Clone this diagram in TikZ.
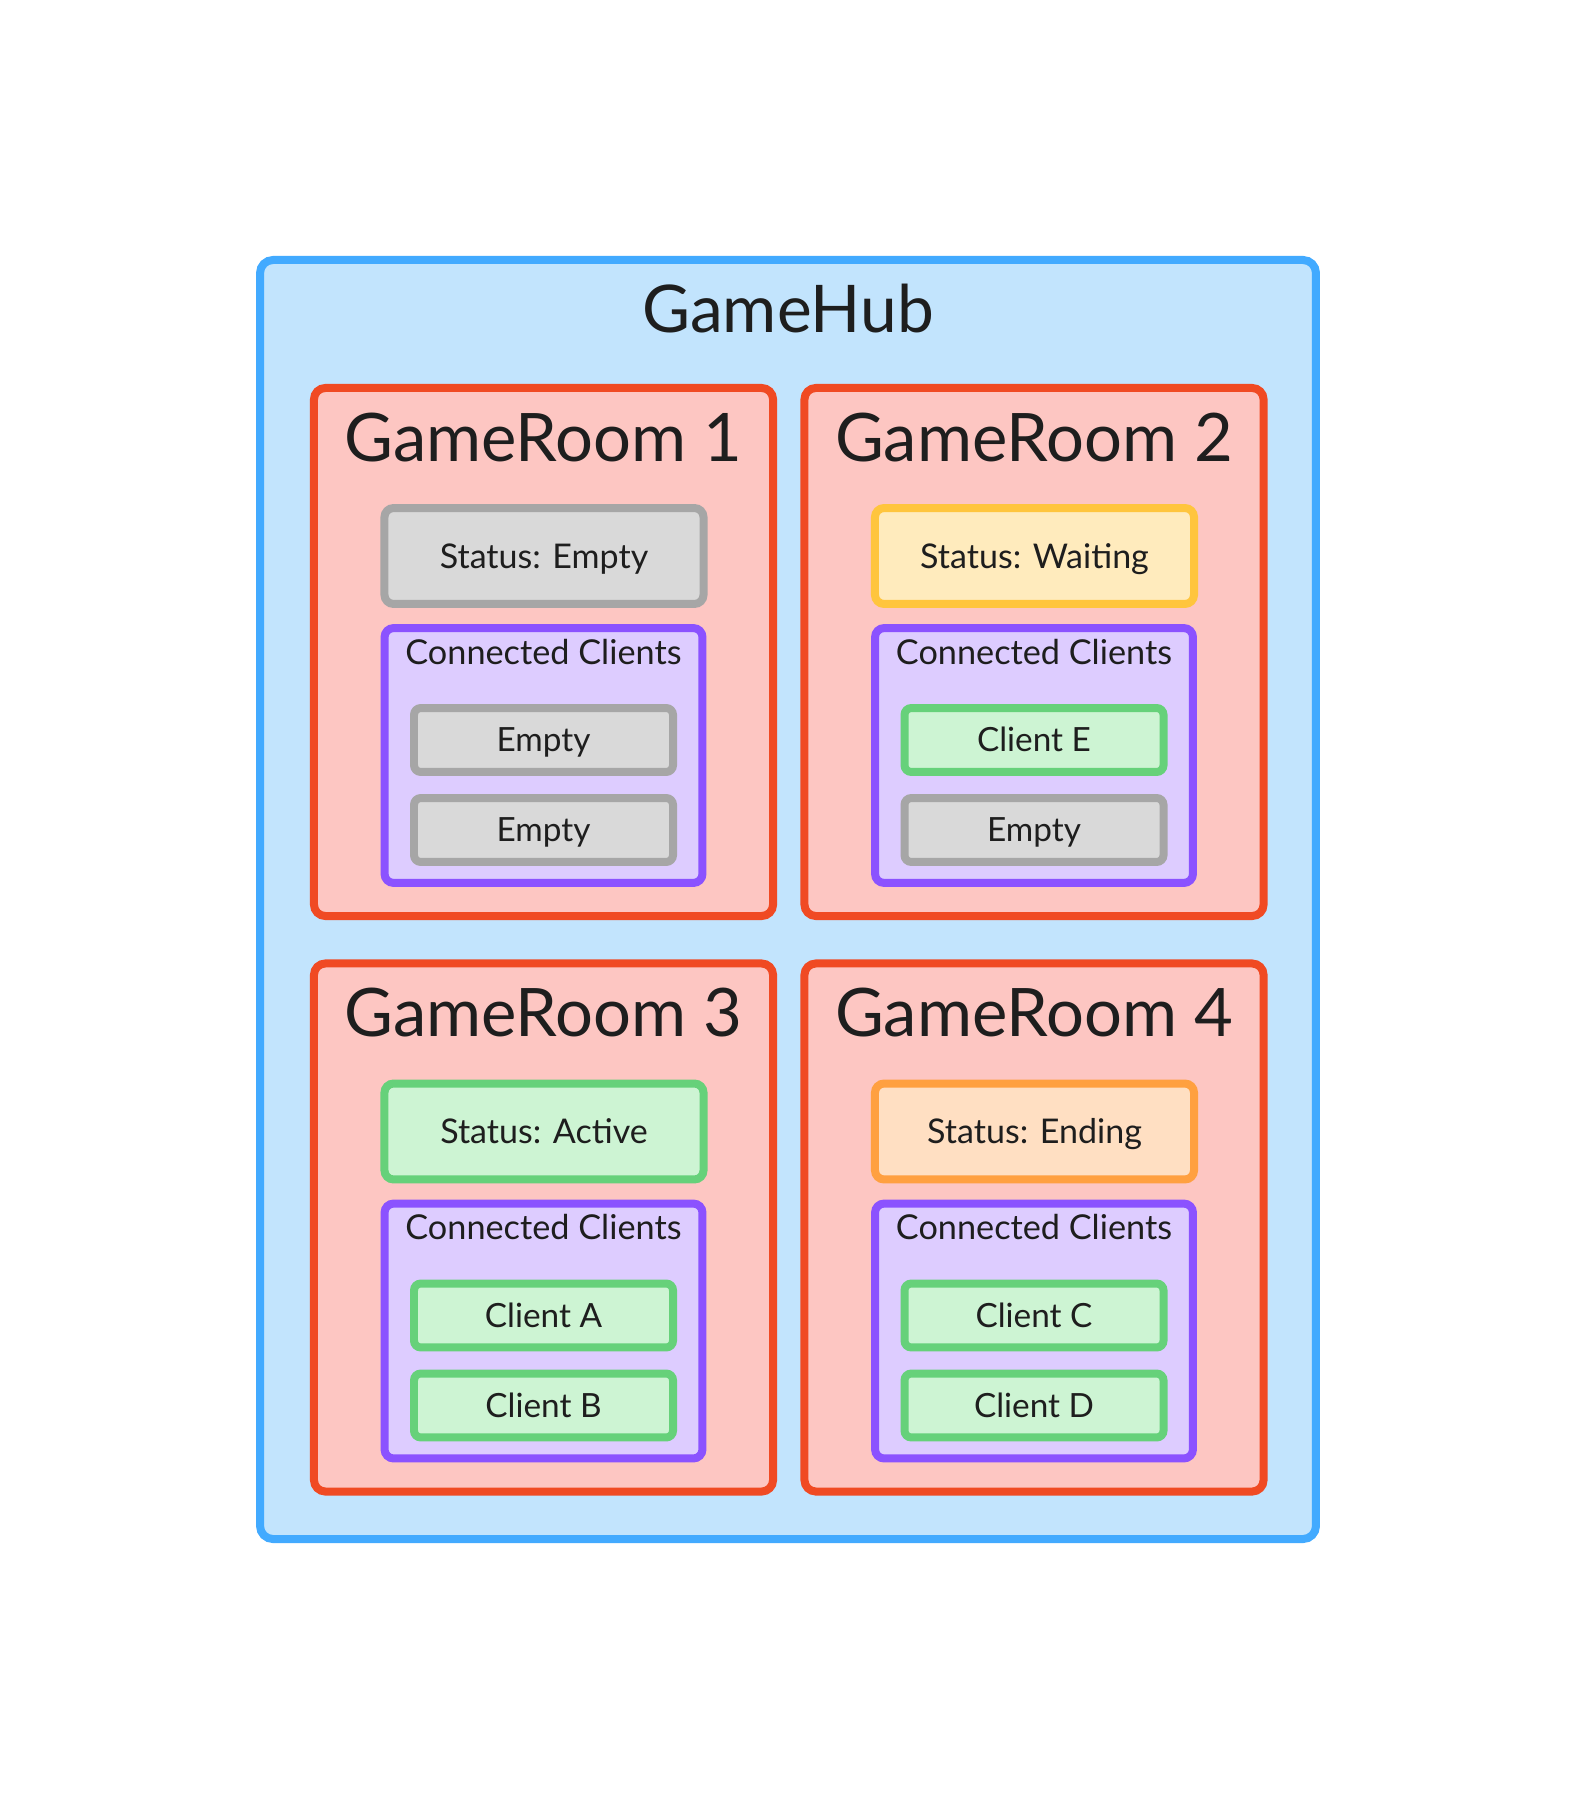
\documentclass[tikz,border=0pt]{standalone}
\usepackage{fontspec}
\setmainfont{Lato}
\definecolor{hubfill}{HTML}{C2E4FD}
\definecolor{hubline}{HTML}{42AAFF}
\definecolor{roomfill}{HTML}{FDC6C2}
\definecolor{roomline}{HTML}{F04A23}
\definecolor{greyfill}{HTML}{D9D9D9}
\definecolor{greyline}{HTML}{A6A6A6}
\definecolor{waitfill}{HTML}{FFEBBD}
\definecolor{waitline}{HTML}{FFC53D}
\definecolor{actfill}{HTML}{CDF4D3}
\definecolor{actline}{HTML}{66D17A}
\definecolor{endfill}{HTML}{FFDFC2}
\definecolor{endline}{HTML}{FFA040}
\definecolor{ccfill}{HTML}{DDCCFF}
\definecolor{ccline}{HTML}{8B52FF}
\definecolor{txt}{HTML}{1E1E1E}
\tikzset{
  hubbox/.style={draw=hubline, fill=hubfill, line width=3.5pt, rounded corners=5.7pt, minimum width=462.3pt, minimum height=560pt, inner sep=0pt},
  roombox/.style={draw=roomline, fill=roomfill, line width=3.5pt, rounded corners=5pt, minimum width=201pt, minimum height=231.2pt, inner sep=0pt},
  statusbox/.style={line width=3.5pt, rounded corners=4pt, minimum width=139.7pt, minimum height=42pt, inner sep=0pt, text=txt, font=\fontsize{14.9}{16}\selectfont, text height=10.68pt, text depth=0pt},
  ccbox/.style={draw=ccline, fill=ccfill, line width=3.5pt, rounded corners=4pt, minimum width=139.2pt, minimum height=111.6pt, inner sep=0pt},
  clientbox/.style={line width=3.5pt, rounded corners=3pt, minimum width=113.4pt, minimum height=28pt, inner sep=0pt, text=txt, font=\fontsize{14.6}{16}\selectfont, text height=10.46pt, text depth=0pt},
  grey/.style={draw=greyline, fill=greyfill},
  wait/.style={draw=waitline, fill=waitfill},
  act/.style={draw=actline, fill=actfill},
  endst/.style={draw=endline, fill=endfill},
  bigtitle/.style={text=txt, font=\fontsize{29.3}{32}\selectfont, inner sep=0pt, anchor=base},
  hubtitlestyle/.style={text=txt, font=\fontsize{28.8}{32}\selectfont, inner sep=0pt, anchor=base},
  cclabel/.style={text=txt, font=\fontsize{15}{16}\selectfont, inner sep=0pt, anchor=base},
}
\newcommand{\gameroom}[9]{%
  \node[roombox] (room#1) at (#2,#3) {};
  \node[bigtitle] (title#1) at (#2,#3-191) {GameRoom #1};
  \node[statusbox,#4] (status#1) at (#2+0.5,#3-96) {#5};
  \node[ccbox] (cc#1) at (#2,#3+103.5) {};
  \node[cclabel] (cclabel#1) at (#2,#3+12) {Connected Clients};
  \node[clientbox,#6] (clienta#1) at (#2,#3+88) {#7};
  \node[clientbox,#8] (clientb#1) at (#2,#3+178) {#9};
}
\begin{document}
\begin{tikzpicture}[x=0.43782pt,y=-0.43782pt]
\useasboundingbox (0,0) rectangle (1576,1800);
\node[hubbox] (hub) at (788,899.5) {};
\node[hubtitlestyle] (hubtitle) at (788,333) {GameHub};
\gameroom{1}{543.5}{652}{grey}{Status: Empty}{grey}{Empty}{grey}{Empty}
\gameroom{2}{1034}{652}{wait}{Status: Waiting}{act}{Client E}{grey}{Empty}
\gameroom{3}{543.5}{1227.5}{act}{Status: Active}{act}{Client A}{act}{Client B}
\gameroom{4}{1034}{1227.5}{endst}{Status: Ending}{act}{Client C}{act}{Client D}
\end{tikzpicture}
\end{document}
